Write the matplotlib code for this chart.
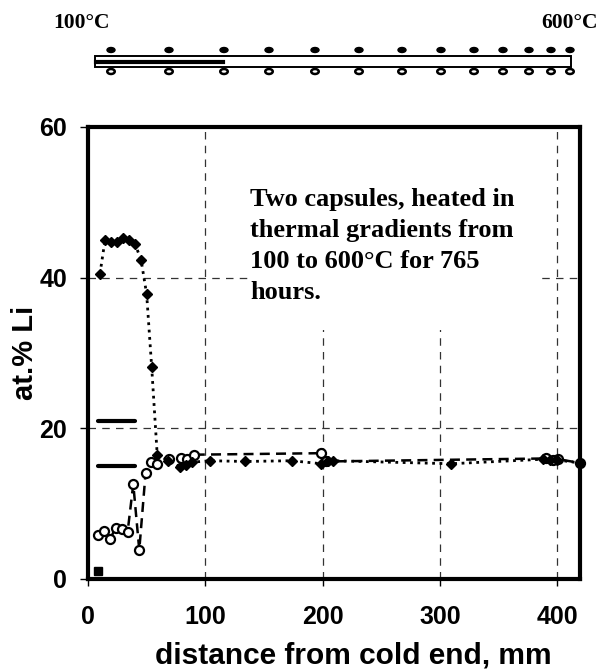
import matplotlib
matplotlib.use("Agg")
import matplotlib.pyplot as plt
from matplotlib.patches import Rectangle, Ellipse

# filled diamonds, dotted line
x_fill = [10.2, 14.5, 19.6, 25, 30, 35, 40, 45.2, 50, 54.3, 59, 68.5, 78.4, 83.6,
          88.4, 104, 134, 173.6, 199, 205, 209, 309.5, 388, 394, 400, 419.4]
y_fill = [40.5, 45.0, 44.8, 44.8, 45.3, 45.0, 44.5, 42.4, 37.8, 28.1, 16.5, 15.7, 14.9, 15.1,
          15.5, 15.7, 15.6, 15.7, 15.3, 15.6, 15.7, 15.3, 15.9, 15.8, 15.8, 15.4]

# open circles, dashed line
x_open = [8.8, 13.6, 18.8, 23.6, 28.6, 33.8, 38.6, 43.7, 49.1, 53.7, 59, 69, 79, 84.7,
          90, 199, 203, 390, 396, 401, 419.4]
y_open = [5.8, 6.4, 5.3, 6.8, 6.7, 6.3, 12.6, 3.85, 14.1, 15.5, 15.3, 15.9, 16.0, 15.9,
          16.5, 16.7, 15.6, 16.0, 15.8, 15.9, 15.4]

# horizontal reference bars and the lone square
bar_y = [21.0, 15.0]
bar_x0, bar_x1 = 8.5, 40
sq_x, sq_y = [8.8], [1.06]

xticks = [0, 100, 200, 300, 400]
yticks = [0, 20, 40, 60]

# schematic of the capsule (pixel coords)
dot_x = [111, 169, 224, 269, 315, 359, 402, 441, 474, 503, 529, 551, 570]

sans = "Liberation Sans"
serif = "Liberation Serif"
W, H = 599, 669

fig = plt.figure(figsize=(W/100, H/100), dpi=100)
ax = fig.add_axes([88/W, 1-579/H, (580-88)/W, (579-127)/H])

ax.plot(x_fill, y_fill, ls=":", lw=2, color="black", marker="D", ms=5.5,
        mfc="black", mec="black", clip_on=False, zorder=4)
ax.plot(x_open, y_open, ls="--", lw=1.8, dashes=(4, 2.5), color="black", marker="o", ms=6.5,
        mfc="white", mec="black", mew=1.6, clip_on=False, zorder=3)
for yb in bar_y:
    ax.plot([bar_x0, bar_x1], [yb, yb], color="black", lw=3, solid_capstyle="round")
ax.plot(sq_x, sq_y, ls="none", marker="s", ms=6, color="black")

ax.set_xlim(0, 419.4)
ax.set_ylim(0, 60)
ax.set_xticks(xticks)
ax.set_yticks(yticks)
ax.grid(True, ls=(0, (6, 5)), lw=0.9, color="#333333")
ax.tick_params(axis="x", direction="out", length=5, width=1, pad=14)
ax.tick_params(axis="y", direction="out", length=6, width=1, pad=9)
for lab in ax.get_xticklabels() + ax.get_yticklabels():
    lab.set_fontfamily(sans)
    lab.set_fontweight("bold")
    lab.set_fontsize(18)
for sp in ax.spines.values():
    sp.set_linewidth(3)
    sp.set_zorder(5)

# white box behind the note hides the grid there
ax.add_patch(Rectangle((136.4, 33), 249, 27, fc="white", ec="none", zorder=2))
ax.text(138, 51.9, "Two capsules, heated in\nthermal gradients from\n100 to 600\u00b0C for 765\nhours.",
        family=serif, weight="bold", fontsize=19, va="top", ha="left",
        linespacing=1.45, zorder=3)

fig.text(155/W, (H-663)/H, "distance from cold end, mm", family=sans, weight="bold",
         fontsize=21.5, ha="left", va="baseline")
fig.text(25/W, 1-353/H, "at.% Li", family=sans, weight="bold", fontsize=21,
         rotation=90, ha="center", va="center")

# schematic on top
sk = fig.add_axes([0, 0, 1, 1], zorder=-1)
sk.set_xlim(0, W)
sk.set_ylim(H, 0)
sk.axis("off")
sk.add_patch(Rectangle((95, 56), 476, 10.5, fill=False, lw=1.4, ec="black"))
sk.plot([96, 223], [62, 62], color="black", lw=3)
for dx in dot_x:
    sk.add_patch(Ellipse((dx, 50), 8, 5, color="black"))
    sk.add_patch(Ellipse((dx, 71.5), 7.5, 5, fc="white", ec="black", lw=1.8))
sk.text(110, 22.5, "100\u00b0C", family=serif, weight="bold", fontsize=15.5, va="center", ha="right")
sk.text(598, 22.5, "600\u00b0C", family=serif, weight="bold", fontsize=15.5, va="center", ha="right")

fig.savefig("out.png", dpi=100)
